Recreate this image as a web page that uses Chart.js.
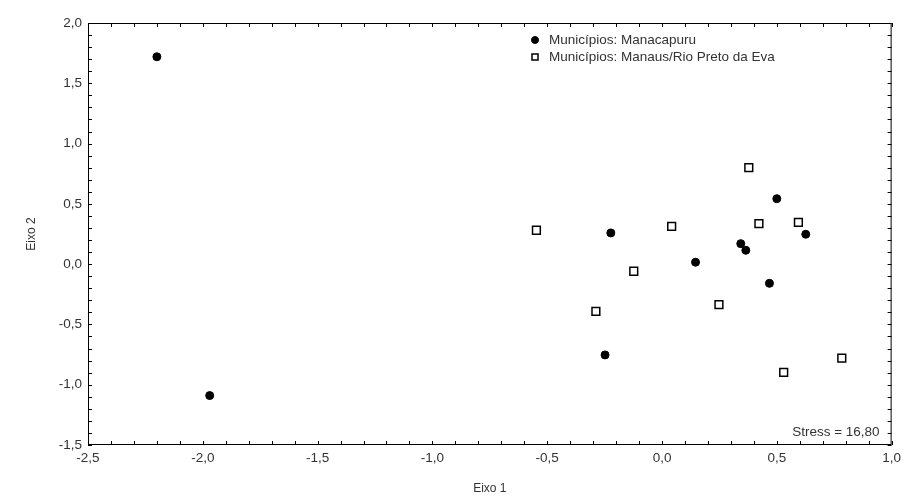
<!DOCTYPE html>
<html>
<head>
<meta charset="utf-8">
<script src="https://cdn.jsdelivr.net/npm/chart.js@4/dist/chart.umd.min.js"></script>
<style>
  html, body { margin: 0; padding: 0; background: #fff; }
  #wrap { width: 906px; height: 496px; }
</style>
</head>
<body>
<div id="wrap"><canvas id="grafico" width="906" height="496"></canvas></div>
<script>
// Dados (Eixo 1, Eixo 2)
const manacapuruX = [-2.20, -1.97, -0.223, 0.146, 0.343, 0.365, 0.50, 0.626, 0.468, -0.248];
const manacapuruY = [1.72, -1.09, 0.259, 0.016, 0.170, 0.115, 0.543, 0.248, -0.159, -0.753];

const manausX = [-0.547, 0.042, -0.123, -0.288, 0.248, 0.422, 0.594, 0.530, 0.378, 0.783];
const manausY = [0.281, 0.314, -0.059, -0.391, -0.336, 0.336, 0.347, -0.897, 0.80, -0.78];

const xTicks = [-2.5, -2.0, -1.5, -1.0, -0.5, 0.0, 0.5, 1.0];
const yTicks = [-1.5, -1.0, -0.5, 0.0, 0.5, 1.0, 1.5, 2.0];

const legendLabels = ["Municípios: Manacapuru", "Municípios: Manaus/Rio Preto da Eva"];
const stressText = "Stress = 16,80";

const fonte = "'Liberation Sans', Arial, sans-serif";

function pares(xs, ys) {
  return xs.map((x, i) => ({ x: x, y: ys[i] }));
}

function virgula(v) {
  return Number(v).toFixed(1).replace(".", ",");
}

// Moldura, marcas internas, legenda e texto de stress
const molduraPlugin = {
  id: "moldura",
  afterDatasetsDraw(chart) {
    const ctx = chart.ctx;
    const a = chart.chartArea;
    const sx = chart.scales.x;
    const sy = chart.scales.y;
    ctx.save();
    ctx.strokeStyle = "#000";
    ctx.lineWidth = 1;
    ctx.strokeRect(a.left + 0.5, a.top + 0.5, a.right - a.left - 1, a.bottom - a.top - 1);

    ctx.beginPath();
    const t = 4;
    for (let i = -25; i <= 10; i++) {
      const px = Math.round(sx.getPixelForValue(i / 10)) + 0.5;
      ctx.moveTo(px, a.top); ctx.lineTo(px, a.top + t);
      ctx.moveTo(px, a.bottom); ctx.lineTo(px, a.bottom - t);
    }
    for (let i = -15; i <= 20; i++) {
      const py = Math.round(sy.getPixelForValue(i / 10)) + 0.5;
      ctx.moveTo(a.left, py); ctx.lineTo(a.left + t, py);
      ctx.moveTo(a.right, py); ctx.lineTo(a.right - t, py);
    }
    ctx.stroke();

    // legenda
    ctx.font = "13.5px " + fonte;
    ctx.textBaseline = "middle";
    const lx = 535, ly = [40, 57];
    legendLabels.forEach((txt, i) => {
      const ds = chart.data.datasets[i];
      ctx.fillStyle = ds.pointBackgroundColor;
      ctx.strokeStyle = "#000";
      ctx.lineWidth = ds.borderWidth;
      ctx.beginPath();
      if (i === 0) {
        ctx.arc(lx, ly[i], 3.5, 0, Math.PI * 2);
      } else {
        ctx.rect(lx - 3, ly[i] - 3, 6, 6);
      }
      ctx.fill();
      ctx.stroke();
      ctx.fillStyle = "#333";
      ctx.fillText(txt, lx + 14, ly[i]);
    });

    ctx.textAlign = "right";
    ctx.fillText(stressText, a.right - 12, a.bottom - 13);
    ctx.restore();
  }
};

new Chart(document.getElementById("grafico"), {
  type: "scatter",
  data: {
    datasets: [{
      label: legendLabels[0],
      data: pares(manacapuruX, manacapuruY),
      pointStyle: "circle",
      pointRadius: 4,
      pointBackgroundColor: "#000",
      pointBorderColor: "#000",
      borderWidth: 1
    }, {
      label: legendLabels[1],
      data: pares(manausX, manausY),
      pointStyle: "rect",
      pointRadius: 5.5,
      pointBackgroundColor: "#fff",
      pointBorderColor: "#000",
      pointBorderWidth: 1.5,
      borderWidth: 1.5
    }]
  },
  options: {
    responsive: false,
    animation: false,
    layout: { padding: { top: 23, right: 13, left: 0, bottom: 0 } },
    plugins: {
      legend: { display: false },
      tooltip: { enabled: false }
    },
    scales: {
      x: {
        type: "linear",
        min: -2.5,
        max: 1.0,
        afterBuildTicks: (s) => { s.ticks = xTicks.map(v => ({ value: v })); },
        afterFit: (s) => { s.height = 51; },
        grid: { display: false, drawTicks: false, tickLength: 0 },
        border: { display: false },
        ticks: {
          callback: (v) => virgula(v),
          color: "#333",
          font: { size: 13.5, family: fonte },
          padding: 5,
          maxRotation: 0
        },
        title: {
          display: true,
          text: "Eixo 1",
          color: "#333",
          font: { size: 12, family: fonte },
          padding: { top: 6, bottom: 0 }
        }
      },
      y: {
        type: "linear",
        min: -1.5,
        max: 2.0,
        afterBuildTicks: (s) => { s.ticks = yTicks.map(v => ({ value: v })); },
        afterFit: (s) => { s.width = 88; },
        grid: { display: false, drawTicks: false, tickLength: 0 },
        border: { display: false },
        ticks: {
          callback: (v) => virgula(v),
          color: "#333",
          font: { size: 13.5, family: fonte },
          padding: 6
        },
        title: {
          display: true,
          text: "Eixo 2",
          color: "#333",
          font: { size: 12, family: fonte },
          padding: { top: 24, bottom: 0 }
        }
      }
    }
  },
  plugins: [molduraPlugin]
});
</script>
</body>
</html>
